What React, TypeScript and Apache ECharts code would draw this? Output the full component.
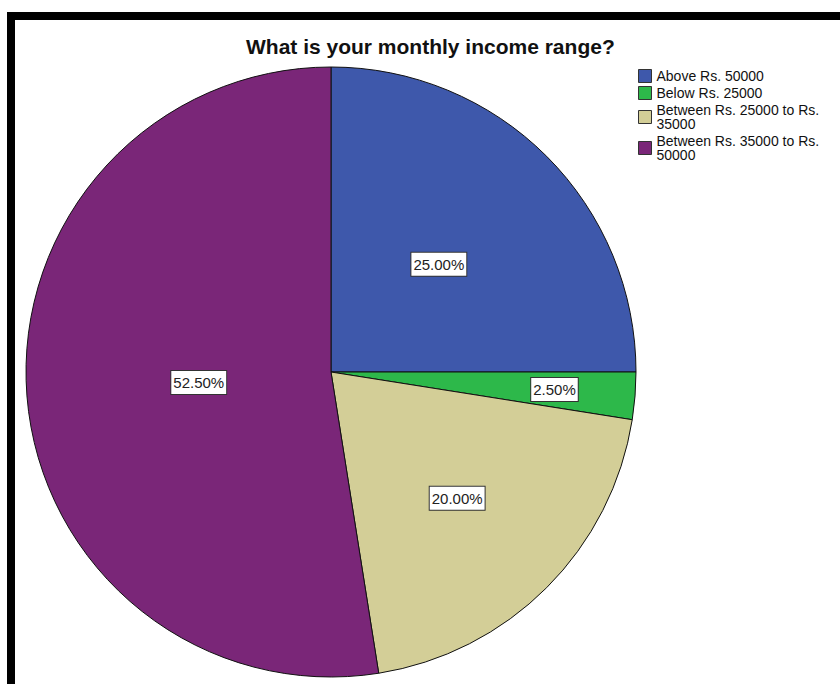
import React, { useEffect, useRef } from "react";
import * as echarts from "echarts";

const categories = [
  "Above Rs. 50000",
  "Below Rs. 25000",
  "Between Rs. 25000 to Rs. 35000",
  "Between Rs. 35000 to Rs. 50000",
];
const legendLabels = [
  "Above Rs. 50000",
  "Below Rs. 25000",
  "Between Rs. 25000 to Rs.\n35000",
  "Between Rs. 35000 to Rs.\n50000",
];
const percentValues = [25.0, 2.5, 20.0, 52.5];
const colors = ["#3e58ab", "#2db84a", "#d3ce97", "#7a2678"];
const labelRadiusFraction = [0.5, 0.735, 0.585, 0.435];

const CX = 331;
const CY = 372;
const R = 305;

export default function App() {
  const ref = useRef<HTMLDivElement>(null);
  useEffect(() => {
    document.body.style.margin = "0";
    const chart = echarts.init(ref.current!, null, { renderer: "svg" });
    const total = percentValues.reduce((a, b) => a + b, 0);
    const mids: number[] = [];
    let acc = 0;
    percentValues.forEach((v) => {
      mids.push(((acc + v / 2) / total) * Math.PI * 2);
      acc += v;
    });
    const font = "'Liberation Sans', Arial, sans-serif";
    chart.setOption({
      animation: false,
      backgroundColor: "#fff",
      color: colors,
      title: {
        text: "What is your monthly income range?",
        left: 241,
        top: 31,
        textStyle: { fontSize: 21, fontWeight: "bold", color: "#111", fontFamily: font },
      },
      legend: {
        orient: "vertical",
        left: 633,
        top: 64,
        itemWidth: 13,
        itemHeight: 13,
        itemGap: 3,
        icon: "rect",
        itemStyle: { borderColor: "#333", borderWidth: 1 },
        textStyle: { fontSize: 14, color: "#111", fontFamily: font, lineHeight: 14 },
        formatter: (name: string) => legendLabels[categories.indexOf(name)],
        data: categories,
      },
      graphic: [
        { type: "rect", shape: { x: 7, y: 12, width: 833, height: 8 }, style: { fill: "#000" } },
        { type: "rect", shape: { x: 7, y: 12, width: 8, height: 672 }, style: { fill: "#000" } },
      ],
      series: [
        {
          type: "pie",
          center: [CX, CY],
          radius: R,
          startAngle: 90,
          clockwise: true,
          avoidLabelOverlap: false,
          itemStyle: { borderColor: "#111", borderWidth: 1 },
          emphasis: { disabled: true },
          label: {
            show: true,
            position: "inside",
            formatter: (p: any) => p.value.toFixed(2) + "%",
            fontSize: 15,
            color: "#222",
            fontFamily: font,
            backgroundColor: "#fff",
            borderColor: "#333",
            borderWidth: 1,
            padding: [5, 2, 3, 2],
          },
          labelLine: { show: false },
          labelLayout: (params: any) => {
            const i = params.dataIndex;
            const a = mids[i];
            const rr = R * labelRadiusFraction[i];
            return {
              x: CX + rr * Math.sin(a),
              y: CY - rr * Math.cos(a),
              align: "center",
              verticalAlign: "middle",
            };
          },
          data: categories.map((c, i) => ({ name: c, value: percentValues[i] })),
        },
      ],
    });
    return () => chart.dispose();
  }, []);
  return <div ref={ref} style={{ width: 840, height: 684 }} />;
}
